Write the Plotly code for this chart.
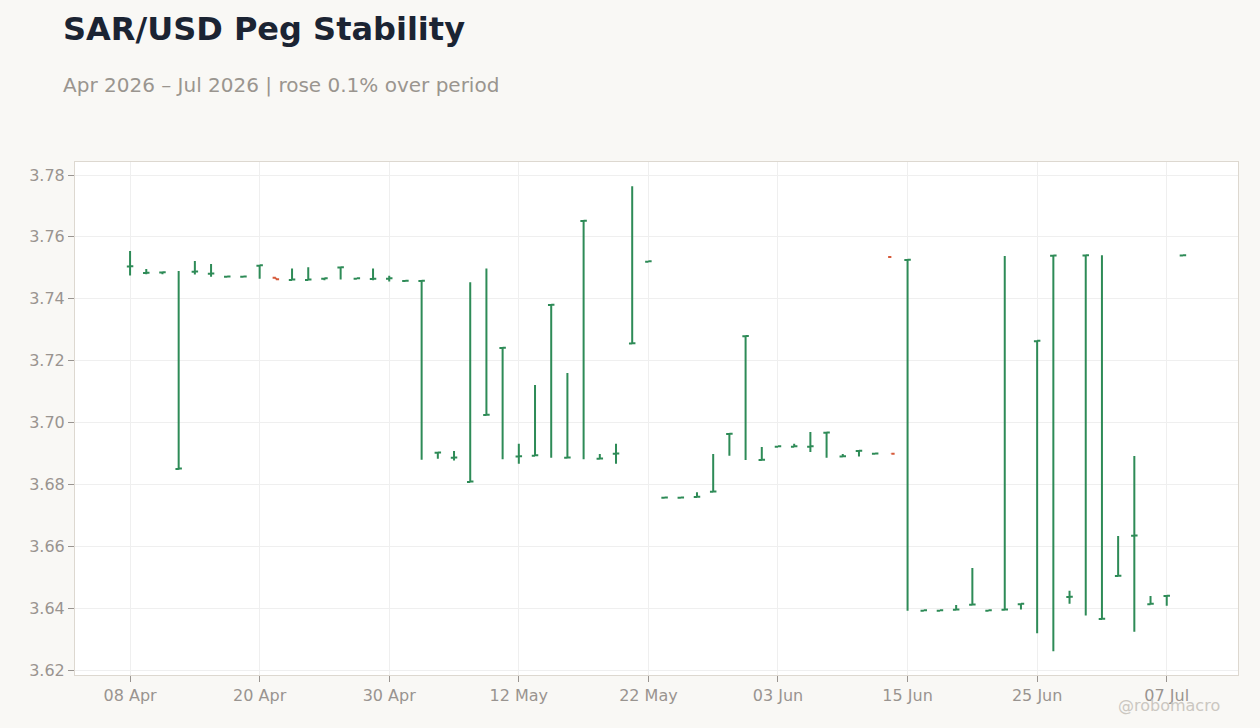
import plotly.graph_objects as go
import pandas as pd

dates = pd.bdate_range("2026-04-08", periods=66)
labels = [d.strftime("%d %b") for d in dates]

open_ = [3.7504, 3.7483, 3.7485, 3.6850, 3.7487, 3.7481, 3.7471, 3.7471, 3.7507, 3.7468,
         3.7461, 3.7461, 3.7465, 3.7501, 3.7465, 3.7464, 3.7465, 3.7457, 3.7457, 3.6902,
         3.6886, 3.6808, 3.7024, 3.7241, 3.6890, 3.6893, 3.7380, 3.6886, 3.7651, 3.6883,
         3.6899, 3.7255, 3.7520, 3.6757, 3.6757, 3.6759, 3.6776, 3.6963, 3.7279, 3.6879,
         3.6922, 3.6922, 3.6922, 3.6967, 3.6890, 3.6908, 3.6899, 3.7535, 3.7525, 3.6392,
         3.6392, 3.6395, 3.6411, 3.6392, 3.6395, 3.6413, 3.7263, 3.7539, 3.6436, 3.7540,
         3.6365, 3.6504, 3.6634, 3.6413, 3.6439, 3.7540]
high = [3.7554, 3.7496, 3.7486, 3.7490, 3.7522, 3.7512, 3.7472, 3.7472, 3.7508, 3.7468,
        3.7498, 3.7502, 3.7466, 3.7502, 3.7466, 3.7498, 3.7474, 3.7458, 3.7458, 3.6903,
        3.6908, 3.7453, 3.7498, 3.7242, 3.6931, 3.7121, 3.7381, 3.7160, 3.7652, 3.6898,
        3.6931, 3.7764, 3.7521, 3.6758, 3.6758, 3.6775, 3.6898, 3.6964, 3.7280, 3.6921,
        3.6923, 3.6931, 3.6969, 3.6968, 3.6898, 3.6909, 3.6900, 3.6900, 3.7526, 3.6393,
        3.6393, 3.6410, 3.6530, 3.6393, 3.7538, 3.6414, 3.7264, 3.7540, 3.6456, 3.7541,
        3.7541, 3.6633, 3.6892, 3.6439, 3.6440, 3.7541]
low = [3.7475, 3.7479, 3.7479, 3.6847, 3.7478, 3.7471, 3.7470, 3.7470, 3.7465, 3.7463,
       3.7460, 3.7460, 3.7460, 3.7462, 3.7464, 3.7460, 3.7456, 3.7456, 3.6880, 3.6883,
       3.6877, 3.6807, 3.7023, 3.6881, 3.6867, 3.6892, 3.6886, 3.6884, 3.6881, 3.6882,
       3.6867, 3.7254, 3.7519, 3.6756, 3.6756, 3.6758, 3.6775, 3.6893, 3.6879, 3.6878,
       3.6921, 3.6921, 3.6905, 3.6886, 3.6889, 3.6890, 3.6898, 3.6899, 3.6392, 3.6391,
       3.6391, 3.6394, 3.6410, 3.6391, 3.6394, 3.6396, 3.6319, 3.6261, 3.6414, 3.6376,
       3.6364, 3.6503, 3.6324, 3.6412, 3.6408, 3.7539]
close = [3.7505, 3.7484, 3.7486, 3.6851, 3.7488, 3.7482, 3.7472, 3.7472, 3.7508, 3.7463,
         3.7462, 3.7462, 3.7466, 3.7502, 3.7466, 3.7465, 3.7466, 3.7458, 3.7458, 3.6903,
         3.6887, 3.6809, 3.7025, 3.7242, 3.6891, 3.6894, 3.7381, 3.6887, 3.7652, 3.6884,
         3.6900, 3.7256, 3.7521, 3.6758, 3.6758, 3.6760, 3.6777, 3.6964, 3.7280, 3.6880,
         3.6923, 3.6923, 3.6923, 3.6968, 3.6891, 3.6909, 3.6900, 3.6899, 3.7526, 3.6393,
         3.6393, 3.6396, 3.6412, 3.6393, 3.6396, 3.6414, 3.7264, 3.7540, 3.6437, 3.7541,
         3.6366, 3.6505, 3.6635, 3.6414, 3.6440, 3.7541]

y_ticks = [3.62, 3.64, 3.66, 3.68, 3.70, 3.72, 3.74, 3.76, 3.78]

GREEN = "#2e8b57"
RED = "#d65a3a"
FONT = "DejaVu Sans"

fig = go.Figure(go.Ohlc(
    x=labels, open=open_, high=high, low=low, close=close,
    increasing=dict(line=dict(color=GREEN, width=2)),
    decreasing=dict(line=dict(color=RED, width=2)),
    tickwidth=0.2,
    showlegend=False,
))

fig.update_layout(
    width=1260, height=728,
    margin=dict(l=75, r=22, t=162, b=53),
    paper_bgcolor="#f9f8f5",
    plot_bgcolor="#ffffff",
    font=dict(family=FONT, size=16, color="#999490"),
    showlegend=False,
    annotations=[
        dict(text="<b>SAR/USD Peg Stability</b>", xref="paper", yref="paper",
             x=-0.012, y=1.259, xanchor="left", yanchor="middle", showarrow=False,
             font=dict(family=FONT, size=32, color="#1b2433")),
        dict(text="Apr 2026 – Jul 2026 | rose 0.1% over period", xref="paper", yref="paper",
             x=-0.012, y=1.150, xanchor="left", yanchor="middle", showarrow=False,
             font=dict(family=FONT, size=20, color="#9a958f")),
        dict(text="@robomacro", xref="paper", yref="paper",
             x=0.986, y=-0.060, xanchor="right", yanchor="middle", showarrow=False,
             font=dict(family=FONT, size=16, color="#cbc7c1")),
    ],
)

fig.update_xaxes(
    type="category", range=[-3.4, 68.4], tickmode="linear", tick0=0, dtick=8,
    showgrid=True, gridcolor="#efefef", gridwidth=1,
    showline=True, linecolor="#ddd8d0", linewidth=1, mirror=True,
    ticks="outside", ticklen=6, tickcolor="#999490",
    rangeslider=dict(visible=False), zeroline=False,
)
fig.update_yaxes(
    range=[3.6184, 3.7842], tickvals=y_ticks, tickformat=".2f",
    showgrid=True, gridcolor="#efefef", gridwidth=1,
    showline=True, linecolor="#ddd8d0", linewidth=1, mirror=True,
    ticks="outside", ticklen=6, tickcolor="#999490", zeroline=False,
)

fig.write_html("out.html", config={"displayModeBar": False},
               post_script="document.body.style.margin='0';document.body.style.background='#f9f8f5';")
